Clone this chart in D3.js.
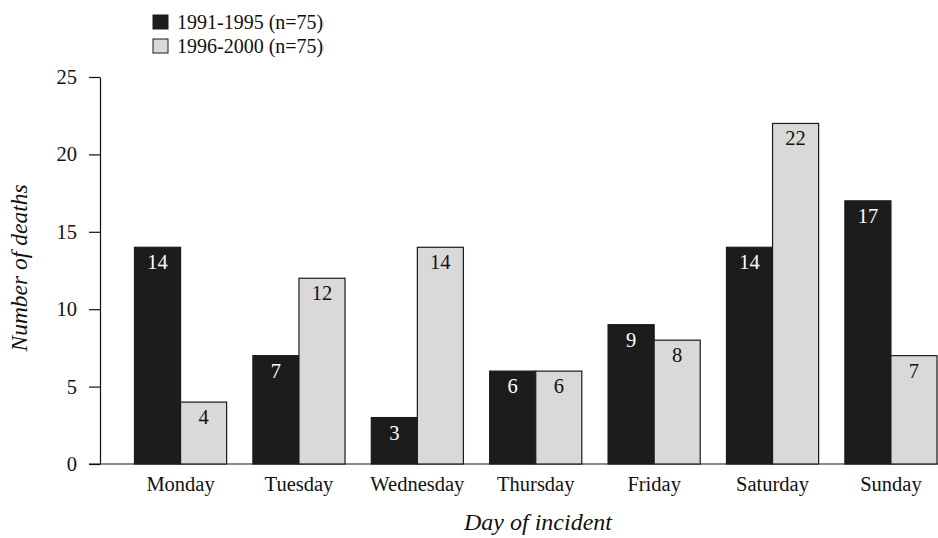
<!DOCTYPE html>
<html>
<head>
<meta charset="utf-8">
<script src="https://cdn.jsdelivr.net/npm/d3@7"></script>
<style>
  html, body { margin: 0; padding: 0; background: #fff; }
  svg text { font-family: "Liberation Serif", "Times New Roman", serif; }
</style>
</head>
<body>
<svg id="chart" width="938" height="538"></svg>
<script>
// Deaths by day of the week, two five-year periods
const days = ["Monday", "Tuesday", "Wednesday", "Thursday", "Friday", "Saturday", "Sunday"];
const seriesNames = ["1991-1995 (n=75)", "1996-2000 (n=75)"];
const deaths9195 = [14, 7, 3, 6, 9, 14, 17];
const deaths9600 = [4, 12, 14, 6, 8, 22, 7];
const yTicks = [0, 5, 10, 15, 20, 25];

const fills = ["#1c1c1c", "#d9d9d9"];
const labelColors = ["#ffffff", "#111111"];

const svg = d3.select("#chart");
const fontSize = 20.5;

const y = d3.scaleLinear().domain([0, 25]).range([464, 77]);
const x = d3.scaleBand().domain(days).range([134.5, 937]).paddingInner(0.222).paddingOuter(0);
const xs = d3.scaleBand().domain([0, 1]).range([0, x.bandwidth()]);

const rows = days.map((d, i) => ({ day: d, values: [deaths9195[i], deaths9600[i]] }));

// Baseline
svg.append("line")
  .attr("x1", 89).attr("x2", 938)
  .attr("y1", y(0)).attr("y2", y(0))
  .attr("stroke", "#8a8a8a").attr("stroke-width", 2);

// Y axis
const yAxis = d3.axisLeft(y).tickValues(yTicks).tickSize(11).tickPadding(12).tickSizeOuter(0);
const gy = svg.append("g").attr("transform", "translate(100,0)").call(yAxis);
gy.attr("font-family", null);
gy.select(".domain").attr("stroke", "#111").attr("stroke-width", 1.2);
gy.selectAll(".tick line").attr("stroke", "#111").attr("stroke-width", 1.2);
gy.selectAll(".tick text")
  .attr("font-size", fontSize)
  .attr("fill", "#111");

// Bars
const groups = svg.append("g").selectAll("g")
  .data(rows).join("g")
  .attr("transform", d => `translate(${x(d.day)},0)`);

groups.selectAll("rect")
  .data(d => d.values.map((v, k) => ({ v, k })))
  .join("rect")
  .attr("x", d => xs(d.k))
  .attr("y", d => y(d.v))
  .attr("width", xs.bandwidth())
  .attr("height", d => y(0) - y(d.v))
  .attr("fill", d => fills[d.k])
  .attr("stroke", "#1a1a1a")
  .attr("stroke-width", 1.2);

groups.selectAll("text")
  .data(d => d.values.map((v, k) => ({ v, k })))
  .join("text")
  .attr("x", d => xs(d.k) + xs.bandwidth() / 2)
  .attr("y", d => y(d.v) + 22)
  .attr("text-anchor", "middle")
  .attr("font-size", fontSize)
  .attr("fill", d => labelColors[d.k])
  .text(d => d.v);

// Category labels
svg.append("g").selectAll("text")
  .data(days).join("text")
  .attr("x", d => x(d) + x.bandwidth() / 2)
  .attr("y", 491)
  .attr("text-anchor", "middle")
  .attr("font-size", fontSize)
  .attr("fill", "#111")
  .text(d => d);

// Axis titles
svg.append("text")
  .attr("x", 538).attr("y", 530)
  .attr("text-anchor", "middle")
  .attr("font-size", 24)
  .attr("font-style", "italic")
  .attr("fill", "#111")
  .text("Day of incident");

svg.append("text")
  .attr("transform", "translate(27,268) rotate(-90)")
  .attr("text-anchor", "middle")
  .attr("font-size", 23.5)
  .attr("font-style", "italic")
  .attr("fill", "#111")
  .text("Number of deaths");

// Legend
const legend = svg.append("g").selectAll("g")
  .data(seriesNames).join("g")
  .attr("transform", (d, i) => `translate(153,${15 + i * 24})`);
legend.append("rect")
  .attr("width", 15).attr("height", 14)
  .attr("fill", (d, i) => fills[i])
  .attr("stroke", "#1a1a1a").attr("stroke-width", 1);
legend.append("text")
  .attr("x", 24).attr("y", 13.5)
  .attr("font-size", 20)
  .attr("fill", "#111")
  .text(d => d);
</script>
</body>
</html>
